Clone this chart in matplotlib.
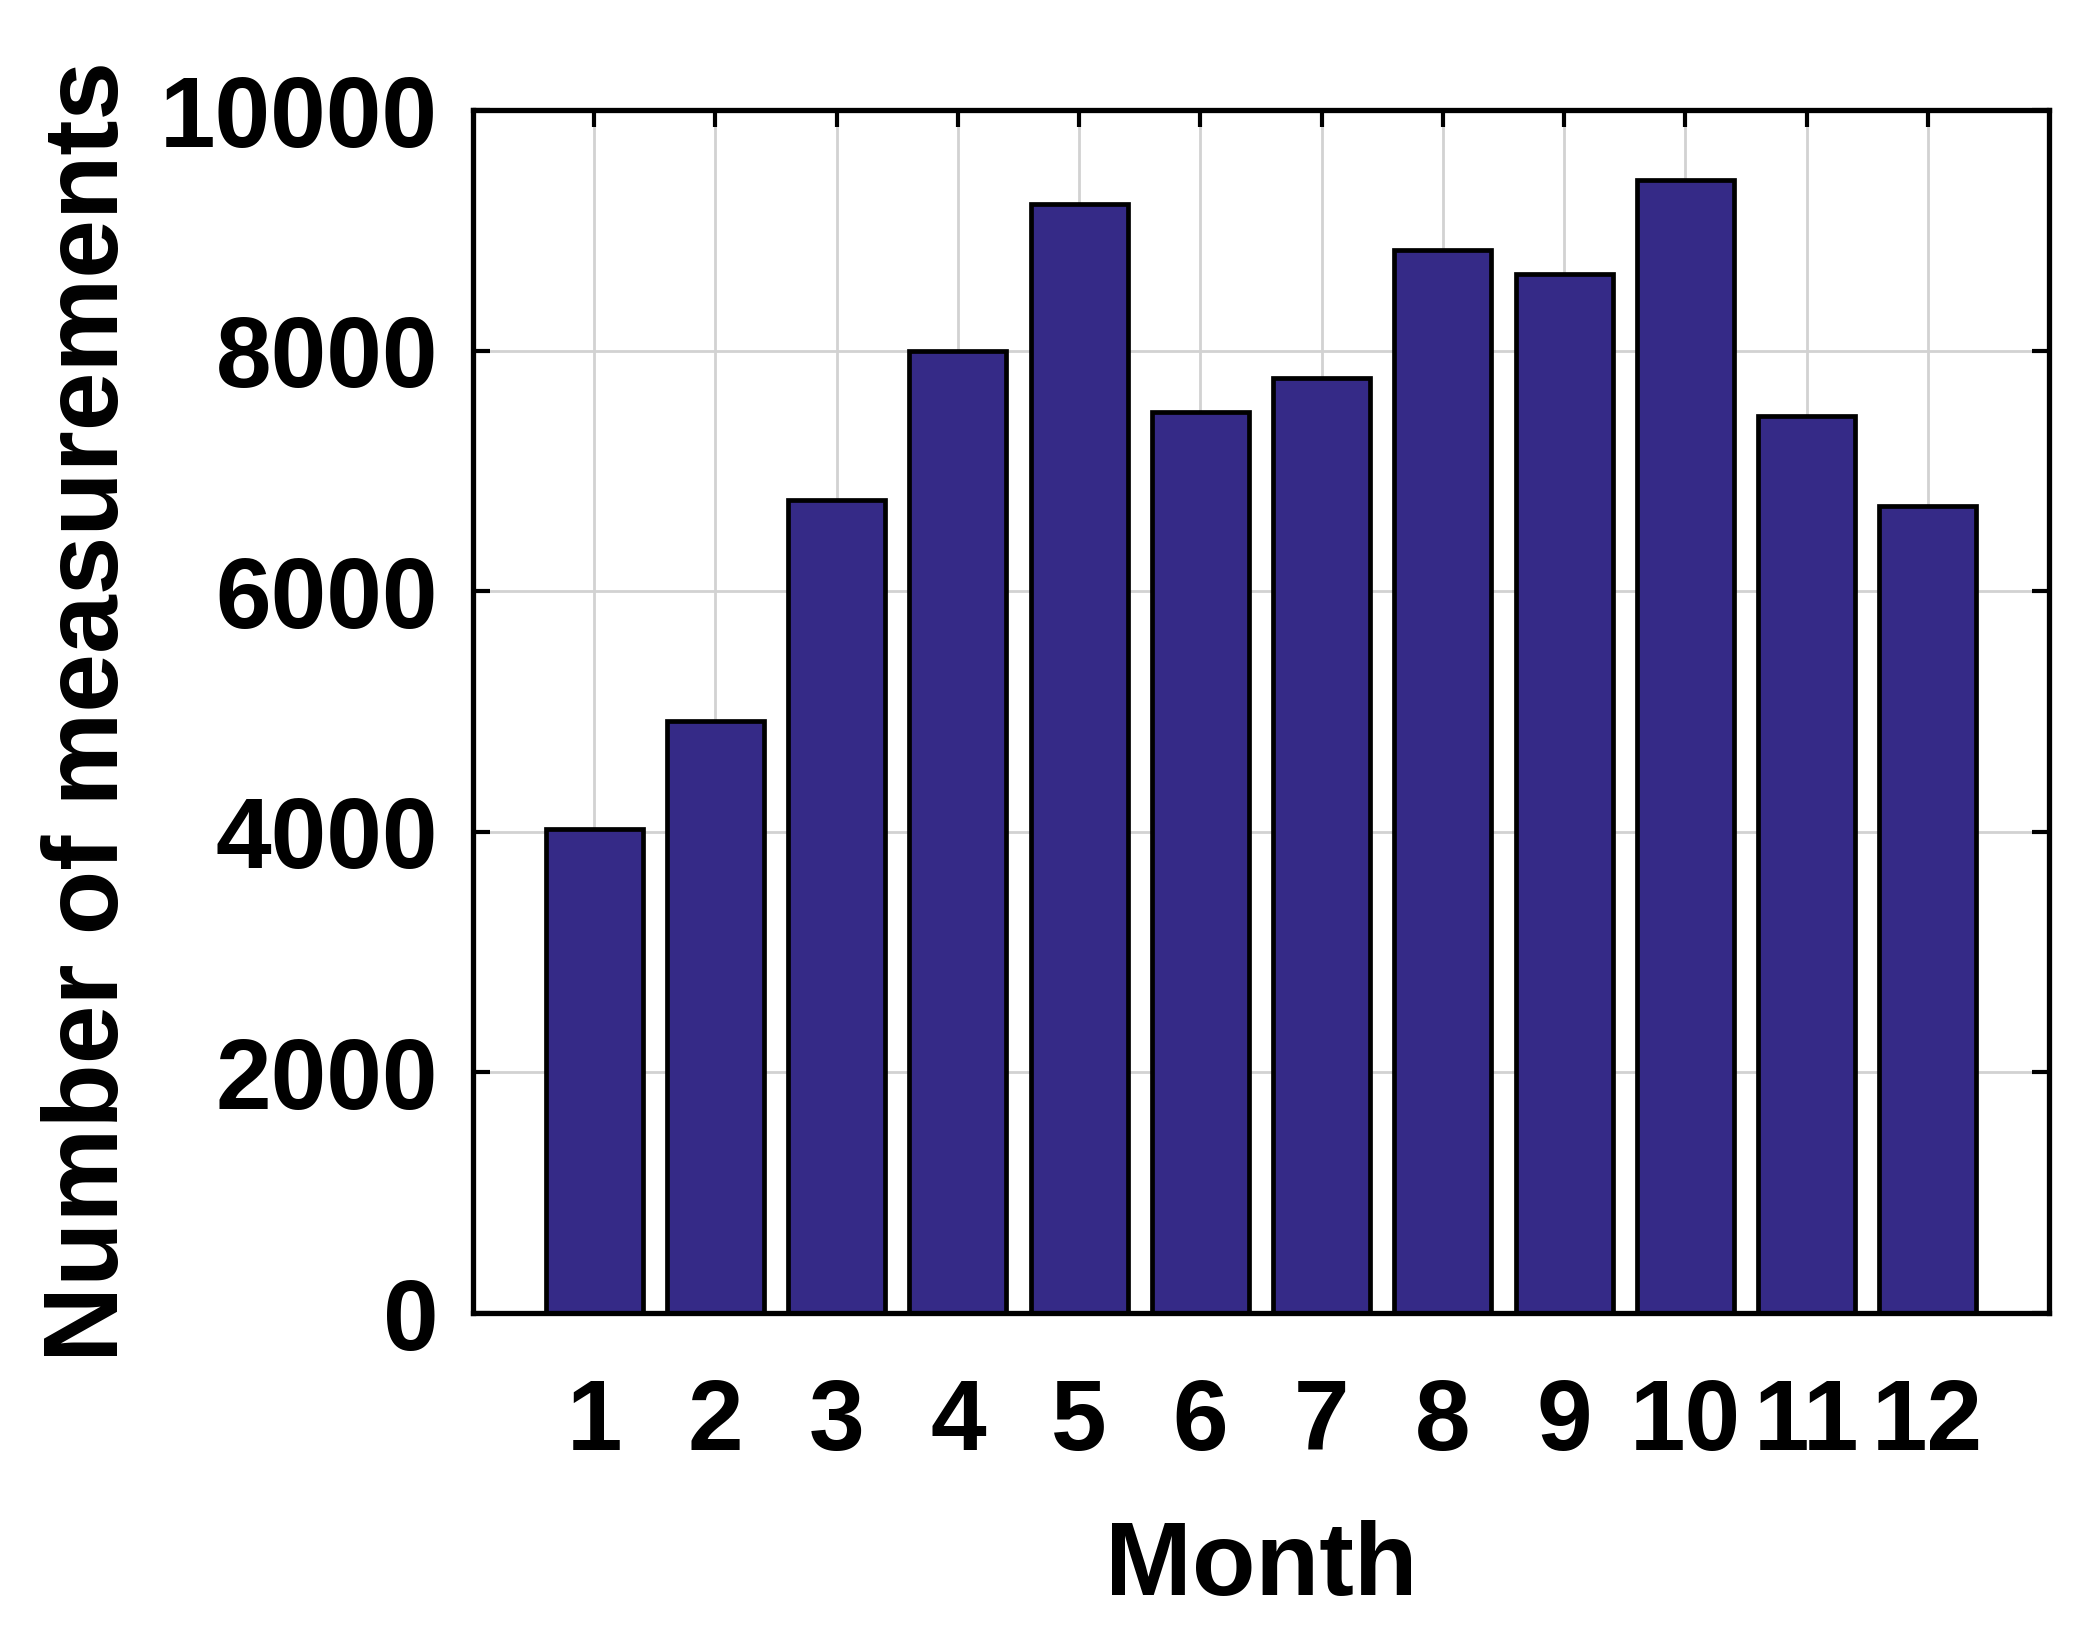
import matplotlib
matplotlib.use('Agg')
import matplotlib.pyplot as plt

months = [1, 2, 3, 4, 5, 6, 7, 8, 9, 10, 11, 12]
counts = [4020, 4920, 6760, 8000, 9220, 7490, 7770, 8840, 8640, 9420, 7460, 6710]
yticks = [0, 2000, 4000, 6000, 8000, 10000]

plt.rcParams['font.family'] = 'Liberation Sans'
plt.rcParams['font.weight'] = 'bold'

fig = plt.figure(figsize=(21, 16.38), dpi=100)
ax = fig.add_axes([0.2252, 0.1984, 0.7505, 0.7344])

ax.bar(months, counts, width=0.8, color='#352A87', edgecolor='black', linewidth=3.4, zorder=3)

ax.set_xlim(0, 13)
ax.set_ylim(0, 10000)
ax.set_xticks(months)
ax.set_yticks(yticks)
ax.grid(True, color='#d2d2d2', linewidth=2.0, zorder=0)
ax.set_axisbelow(True)

ax.tick_params(direction='in', length=12, width=3, labelsize=72,
               top=True, right=True)
ax.tick_params(axis='x', pad=46)
ax.tick_params(axis='y', pad=25)
for s in ax.spines.values():
    s.set_linewidth(3.8)
    s.set_zorder(5)

ax.set_xlabel('Month', fontsize=75, fontweight='bold')
ax.set_ylabel('Number of measurements', fontsize=76, fontweight='bold')
ax.xaxis.set_label_coords(0.5, -0.172)
ax.yaxis.set_label_coords(-0.211, 0.5)

fig.savefig('out.png', dpi=100)
